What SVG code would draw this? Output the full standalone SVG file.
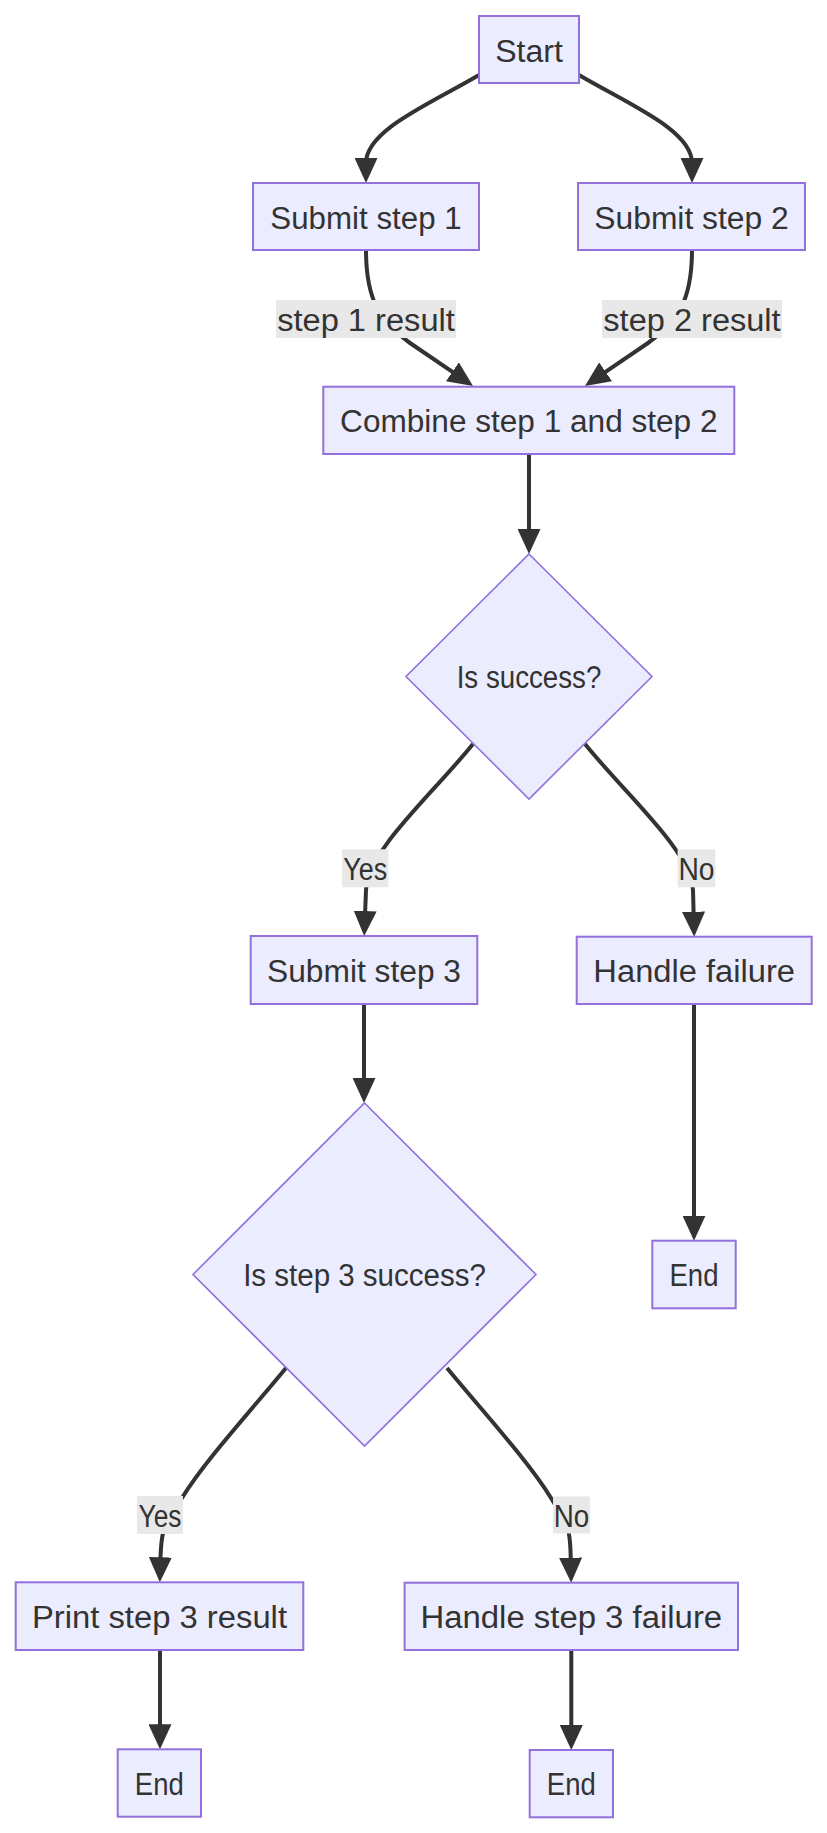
<svg xmlns="http://www.w3.org/2000/svg" width="827" height="1833" viewBox="0 0 827 1833">
<style>
  .node rect, .node polygon { fill: #ECECFF; stroke: #9370DB; }
  .node rect { stroke-width: 2; }
  .node polygon { stroke-width: 1.6; }
  .node text, .label text { font-family: "Liberation Sans", Arial, sans-serif; font-size: 31px; fill: #333333; text-anchor: middle; }
  .edge { fill: none; stroke: #333333; stroke-width: 4; marker-end: url(#arrow); }
  .label rect { fill: #E8E8E8; stroke: none; }
</style>
<defs>
  <marker id="arrow" viewBox="0 0 25 23" markerWidth="25" markerHeight="23" markerUnits="userSpaceOnUse" refX="17" refY="11.5" orient="auto">
    <path d="M0,0 L25,11.5 L0,23 z" fill="#333333"/>
  </marker>
</defs>
<rect width="827" height="1833" fill="#FFFFFF"/>

<g id="connectors">
  <path class="edge" d="M479,75 C430,104 366,130 366,163 L366,175"/>
  <path class="edge" d="M579,75 C628,104 692,130 692,163 L692,175"/>
  <path class="edge" d="M366,250 C366,300 380,322 410,343 L466.4,381.4"/>
  <path class="edge" d="M692,250 C692,300 678,322 648,343 L591.6,381.4"/>
  <path class="edge" d="M529,454 L529,546"/>
  <path class="edge" d="M473,744 C430,797 368,850 366,890 L364.5,928"/>
  <path class="edge" d="M585,744 C628,797 690,850 693,890 L694,928.7"/>
  <path class="edge" d="M364,1004 L364,1095"/>
  <path class="edge" d="M694,1004 L694,1232.7"/>
  <path class="edge" d="M286,1368 C248,1414 204,1462 182,1498 S161,1530 160,1574.3"/>
  <path class="edge" d="M447,1368 C485,1414 529,1462 551,1498 S570,1530 571,1574.7"/>
  <path class="edge" d="M160,1650 L160,1741.3"/>
  <path class="edge" d="M571.3,1650 L571.3,1742"/>
</g>

<g id="edge-labels">
  <g class="label" id="label-step1">
    <rect x="276" y="300" width="180" height="38"/>
    <text x="366" y="330.5" textLength="177.7" lengthAdjust="spacingAndGlyphs">step 1 result</text>
  </g>
  <g class="label" id="label-step2">
    <rect x="602" y="300" width="180" height="38"/>
    <text x="692" y="330.5" textLength="177.3" lengthAdjust="spacingAndGlyphs">step 2 result</text>
  </g>
  <g class="label" id="label-yes1">
    <rect x="342" y="849.3" width="46.4" height="38"/>
    <text x="365.2" y="880" textLength="43.9" lengthAdjust="spacingAndGlyphs">Yes</text>
  </g>
  <g class="label" id="label-no1">
    <rect x="677.6" y="849.3" width="37.8" height="38"/>
    <text x="696.5" y="880" textLength="36.1" lengthAdjust="spacingAndGlyphs">No</text>
  </g>
  <g class="label" id="label-yes2">
    <rect x="137" y="1496" width="46" height="38"/>
    <text x="160" y="1526.5" textLength="43" lengthAdjust="spacingAndGlyphs">Yes</text>
  </g>
  <g class="label" id="label-no2">
    <rect x="553" y="1496.5" width="37" height="37"/>
    <text x="571.5" y="1526.5" textLength="35.5" lengthAdjust="spacingAndGlyphs">No</text>
  </g>
</g>

<g class="node" id="start">
  <rect x="479" y="16" width="100" height="67"/>
  <text x="529" y="61.5" textLength="67.7" lengthAdjust="spacingAndGlyphs">Start</text>
</g>
<g class="node" id="submit1">
  <rect x="253" y="183" width="226" height="67"/>
  <text x="366" y="228.5" textLength="191.3" lengthAdjust="spacingAndGlyphs">Submit step 1</text>
</g>
<g class="node" id="submit2">
  <rect x="578" y="183" width="227" height="67"/>
  <text x="691.5" y="228.5" textLength="194.3" lengthAdjust="spacingAndGlyphs">Submit step 2</text>
</g>
<g class="node" id="combine">
  <rect x="323.3" y="386.7" width="411" height="67.3"/>
  <text x="528.8" y="431.8" textLength="377.4" lengthAdjust="spacingAndGlyphs">Combine step 1 and step 2</text>
</g>
<g class="node" id="success">
  <polygon points="529,554 652,676.5 529,799 406,676.5"/>
  <text x="529" y="688" textLength="144.7" lengthAdjust="spacingAndGlyphs">Is success?</text>
</g>
<g class="node" id="submit3">
  <rect x="250.7" y="936" width="226.6" height="68"/>
  <text x="364" y="981.5" textLength="194" lengthAdjust="spacingAndGlyphs">Submit step 3</text>
</g>
<g class="node" id="failure">
  <rect x="576.7" y="936.7" width="235" height="67.3"/>
  <text x="694.2" y="981.8" textLength="201.7" lengthAdjust="spacingAndGlyphs">Handle failure</text>
</g>
<g class="node" id="end1">
  <rect x="652.3" y="1240.7" width="83.4" height="67.6"/>
  <text x="694" y="1286" textLength="49" lengthAdjust="spacingAndGlyphs">End</text>
</g>
<g class="node" id="step3success">
  <polygon points="364.5,1103 536,1274.5 364.5,1446 193,1274.5"/>
  <text x="364.5" y="1286" textLength="242.7" lengthAdjust="spacingAndGlyphs">Is step 3 success?</text>
</g>
<g class="node" id="print">
  <rect x="15.7" y="1582.3" width="287.6" height="67.7"/>
  <text x="159.5" y="1627.5" textLength="255" lengthAdjust="spacingAndGlyphs">Print step 3 result</text>
</g>
<g class="node" id="failure3">
  <rect x="404.6" y="1582.7" width="333.4" height="67.3"/>
  <text x="571.3" y="1627.8" textLength="301.7" lengthAdjust="spacingAndGlyphs">Handle step 3 failure</text>
</g>
<g class="node" id="end2">
  <rect x="117.7" y="1749.3" width="83.3" height="67.4"/>
  <text x="159.3" y="1794.5" textLength="49" lengthAdjust="spacingAndGlyphs">End</text>
</g>
<g class="node" id="end3">
  <rect x="529.7" y="1750" width="83.3" height="67.3"/>
  <text x="571.3" y="1795" textLength="49" lengthAdjust="spacingAndGlyphs">End</text>
</g>
</svg>
